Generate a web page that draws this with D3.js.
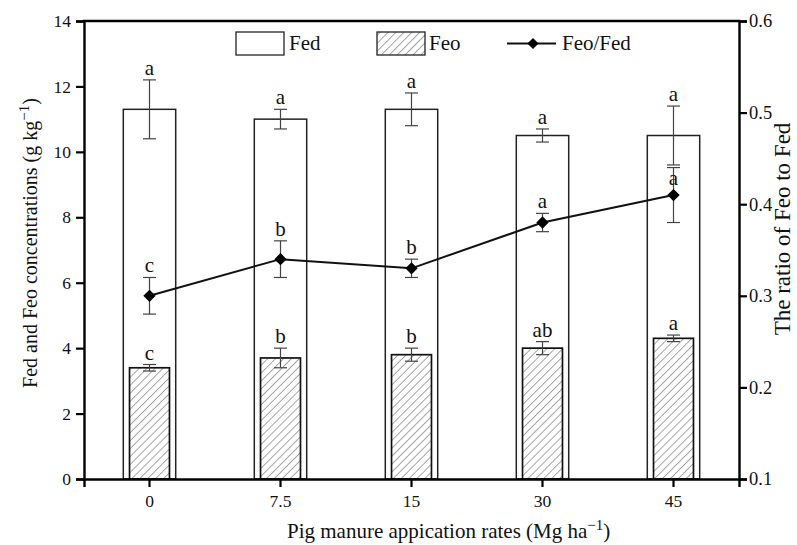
<!DOCTYPE html>
<html>
<head>
<meta charset="utf-8">
<script src="https://cdn.jsdelivr.net/npm/d3@7/dist/d3.min.js"></script>
<style>
  html, body { margin: 0; padding: 0; background: #fff; }
  svg text { font-family: "Liberation Serif", "Times New Roman", serif; fill: #111; }
</style>
</head>
<body>
<svg id="chart" width="797" height="545"></svg>
<script>
// Pig manure application rates (Mg ha-1)
const rates = ["0", "7.5", "15", "30", "45"];

// Fed concentration (g kg-1), standard error, significance letters
const fed = [11.3, 11.0, 11.3, 10.5, 10.5];
const fedErr = [0.9, 0.3, 0.5, 0.2, 0.9];
const fedSig = ["a", "a", "a", "a", "a"];

// Feo concentration (g kg-1), standard error, significance letters
const feo = [3.4, 3.7, 3.8, 4.0, 4.3];
const feoErr = [0.1, 0.3, 0.2, 0.2, 0.1];
const feoSig = ["c", "b", "b", "ab", "a"];

// Feo/Fed ratio, standard error, significance letters
const ratio = [0.30, 0.34, 0.33, 0.38, 0.41];
const ratioErr = [0.02, 0.02, 0.01, 0.01, 0.03];
const ratioSig = ["c", "b", "b", "a", "a"];

const leftTicks = [0, 2, 4, 6, 8, 10, 12, 14];
const rightTicks = [0.1, 0.2, 0.3, 0.4, 0.5, 0.6];

const svg = d3.select("#chart");
const plot = { left: 84, right: 739, top: 21, bottom: 479 };

const x = d3.scaleBand().domain(rates).range([plot.left, plot.right]).padding(0);
const yL = d3.scaleLinear().domain([0, 14]).range([plot.bottom, plot.top]);
const yR = d3.scaleLinear().domain([0.1, 0.6]).range([plot.bottom, plot.top]);
const cx = r => x(r) + x.bandwidth() / 2;

const fedW = x.bandwidth() * 0.40;
const feoW = x.bandwidth() * 0.305;

// diagonal hatch for Feo
const defs = svg.append("defs");
const pat = defs.append("pattern")
  .attr("id", "hatch")
  .attr("patternUnits", "userSpaceOnUse")
  .attr("width", 5.6).attr("height", 5.6)
  .attr("patternTransform", "rotate(45)");
pat.append("rect").attr("width", 5.6).attr("height", 5.6).attr("fill", "#fff");
pat.append("line").attr("x1", 0).attr("y1", 0).attr("x2", 0).attr("y2", 5.6)
  .attr("stroke", "#3a3a3a").attr("stroke-width", 0.9);

// Fed bars
svg.append("g").selectAll("rect").data(rates).join("rect")
  .attr("x", d => cx(d) - fedW / 2)
  .attr("y", (d, i) => yL(fed[i]))
  .attr("width", fedW)
  .attr("height", (d, i) => yL(0) - yL(fed[i]))
  .attr("fill", "#fff").attr("stroke", "#222").attr("stroke-width", 1.5);

// Feo bars
svg.append("g").selectAll("rect").data(rates).join("rect")
  .attr("x", d => cx(d) - feoW / 2)
  .attr("y", (d, i) => yL(feo[i]))
  .attr("width", feoW)
  .attr("height", (d, i) => yL(0) - yL(feo[i]))
  .attr("fill", "url(#hatch)").attr("stroke", "#111").attr("stroke-width", 1.7);

// error bars with caps
function errorBars(vals, errs, scale) {
  const g = svg.append("g")
    .attr("stroke", "#444").attr("stroke-width", 1.2).attr("fill", "none");
  rates.forEach((r, i) => {
    const xc = cx(r), hi = scale(vals[i] + errs[i]), lo = scale(vals[i] - errs[i]);
    g.append("line").attr("x1", xc).attr("x2", xc).attr("y1", hi).attr("y2", lo);
    g.append("line").attr("x1", xc - 6.5).attr("x2", xc + 6.5).attr("y1", hi).attr("y2", hi);
    g.append("line").attr("x1", xc - 6.5).attr("x2", xc + 6.5).attr("y1", lo).attr("y2", lo);
  });
}
errorBars(fed, fedErr, yL);
errorBars(feo, feoErr, yL);

// Feo/Fed ratio line
const line = d3.line().x((d, i) => cx(rates[i])).y(d => yR(d));
svg.append("path").datum(ratio)
  .attr("d", line).attr("fill", "none").attr("stroke", "#111").attr("stroke-width", 2);
errorBars(ratio, ratioErr, yR);
const diamond = d3.symbol(d3.symbolSquare, 76);
svg.append("g").selectAll("path").data(ratio).join("path")
  .attr("d", diamond)
  .attr("transform", (d, i) => `translate(${cx(rates[i])},${yR(d)}) rotate(45)`)
  .attr("fill", "#000");

// significance letters; a letter whose upper error end runs into
// another bar's whisker is set just above its marker instead
function letters(vals, errs, sig, scale, nearPoint) {
  svg.append("g").selectAll("text").data(sig).join("text")
    .attr("x", (d, i) => cx(rates[i]))
    .attr("y", (d, i) => nearPoint && nearPoint(i)
      ? scale(vals[i]) - 10
      : scale(vals[i] + errs[i]) - 5)
    .attr("text-anchor", "middle")
    .style("font-size", "21px")
    .text(d => d);
}
letters(fed, fedErr, fedSig, yL);
letters(feo, feoErr, feoSig, yL);
letters(ratio, ratioErr, ratioSig, yR,
  i => Math.abs(yR(ratio[i] + ratioErr[i]) - yL(fed[i] - fedErr[i])) < 12);

// axes
const axL = svg.append("g").attr("transform", `translate(${plot.left},0)`)
  .call(d3.axisLeft(yL).tickValues(leftTicks).tickFormat(d3.format("d")).tickSizeOuter(0).tickSize(8));
const axR = svg.append("g").attr("transform", `translate(${plot.right},0)`)
  .call(d3.axisRight(yR).tickValues(rightTicks).tickFormat(d3.format(".1f")).tickSizeOuter(0).tickSize(8));
const axB = svg.append("g").attr("transform", `translate(0,${plot.bottom})`)
  .call(d3.axisBottom(x).tickSizeOuter(0).tickSize(8));
[axL, axR, axB].forEach(a => {
  a.select(".domain").attr("stroke", "#000").attr("stroke-width", 2.4);
  a.selectAll(".tick line").attr("stroke", "#000").attr("stroke-width", 2.2);
  a.selectAll(".tick text").style("font-size", "17.5px").attr("fill", "#111")
    .style("font-family", '"Liberation Serif", serif');
});
axL.selectAll(".tick text").attr("x", -13);
axR.selectAll(".tick text").attr("x", 10).style("font-size", "18.5px");
axB.selectAll(".tick text").attr("y", 16);
// top frame
svg.append("line").attr("x1", plot.left - 1.2).attr("x2", plot.right + 1.2)
  .attr("y1", plot.top).attr("y2", plot.top)
  .attr("stroke", "#000").attr("stroke-width", 2.4);

// axis titles
const tL = svg.append("text")
  .attr("transform", `translate(37,243) rotate(-90)`)
  .attr("text-anchor", "middle").style("font-size", "20px");
tL.append("tspan").text("Fed and Feo concentrations (g kg");
tL.append("tspan").attr("dy", -8).style("font-size", "15px").text("\u22121");
tL.append("tspan").attr("dy", 8).text(")");

svg.append("text")
  .attr("transform", `translate(790,229) rotate(-90)`)
  .attr("text-anchor", "middle").style("font-size", "23px")
  .text("The ratio of Feo to Fed");

const tB = svg.append("text")
  .attr("x", 287).attr("y", 538)
  .attr("text-anchor", "start").style("font-size", "21px");
tB.append("tspan").text("Pig manure appication rates (Mg ha");
tB.append("tspan").attr("dy", -8).style("font-size", "15px").text("\u22121");
tB.append("tspan").attr("dy", 8).text(")");

// legend
const leg = svg.append("g");
leg.append("rect").attr("x", 236).attr("y", 32).attr("width", 48).attr("height", 23)
  .attr("fill", "#fff").attr("stroke", "#222").attr("stroke-width", 1.3);
leg.append("text").attr("x", 289).attr("y", 50).style("font-size", "21px").text("Fed");
leg.append("rect").attr("x", 377).attr("y", 32).attr("width", 48).attr("height", 23)
  .attr("fill", "url(#hatch)").attr("stroke", "#222").attr("stroke-width", 1.3);
leg.append("text").attr("x", 429).attr("y", 50).style("font-size", "21px").text("Feo");
leg.append("line").attr("x1", 507).attr("x2", 556).attr("y1", 43.5).attr("y2", 43.5)
  .attr("stroke", "#111").attr("stroke-width", 2);
leg.append("path").attr("d", d3.symbol(d3.symbolSquare, 62))
  .attr("transform", "translate(533,43.5) rotate(45)").attr("fill", "#000");
leg.append("text").attr("x", 562).attr("y", 50).style("font-size", "21px").text("Feo/Fed");
</script>
</body>
</html>
